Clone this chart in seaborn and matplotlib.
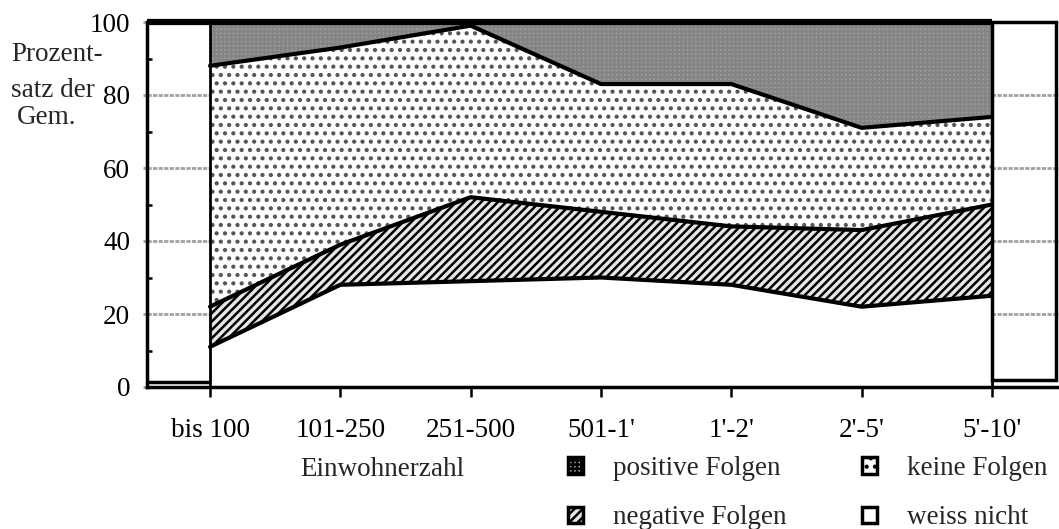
import numpy as np
import pandas as pd
import matplotlib.pyplot as plt
import seaborn as sns
from matplotlib.patches import Patch, Rectangle

# =====================================================
# DATA (percent of municipalities)
# =====================================================
categories = ["bis 100", "101-250", "251-500", "501-1'", "1'-2'", "2'-5'", "5'-10'"]
weiss_nicht = [11, 28, 29, 30, 28, 22, 25]
negative_folgen = [11, 11, 23, 18, 16, 21, 25]
keine_folgen = [66, 54, 47, 35, 39, 28, 24]
positive_folgen = [12, 7, 1, 17, 17, 29, 26]

y_ticks = [0, 20, 40, 60, 80, 100]

# stacking order, bottom to top
df = pd.DataFrame({
    "weiss nicht": weiss_nicht,
    "negative Folgen": negative_folgen,
    "keine Folgen": keine_folgen,
    "positive Folgen": positive_folgen,
}, index=categories)
cum = df.cumsum(axis=1)
cum["pos"] = np.arange(len(categories))
long = cum.melt(id_vars="pos", var_name="Serie", value_name="Prozent")

styles = {
    "weiss nicht": dict(facecolor="white", edgecolor="white", hatch=None),
    "negative Folgen": dict(facecolor="#e6e6e6", edgecolor="black", hatch="////"),
    "keine Folgen": dict(facecolor="white", edgecolor="#555555", hatch=".."),
    "positive Folgen": dict(facecolor="#a0a0a0", edgecolor="#858585", hatch="++++"),
}

# =====================================================
# STYLE
# =====================================================
sns.set_theme(style="white")
plt.rcParams["font.family"] = ["Liberation Serif", "DejaVu Serif"]
plt.rcParams["hatch.linewidth"] = 1.8

FS = 19.5
W, H = 1059, 529
fig = plt.figure(figsize=(W / 100, H / 100), dpi=100)
ax = fig.add_axes([147 / W, 1 - 387 / H, 1 - 147 / W, (387 - 22) / H])

x = np.arange(len(categories))
x_left = -(210 - 147) / 130.33
x_right = 6 + (W - 992) / 130.33

# =====================================================
# STACKED AREAS
# =====================================================
lower = np.zeros(len(categories))
for name in df.columns:
    upper = cum[name].to_numpy()
    ax.fill_between(x, lower, upper, linewidth=0, zorder=1, **styles[name])
    lower = upper

# boundary lines through seaborn
sns.lineplot(data=long[long["Serie"] != "positive Folgen"], x="pos", y="Prozent",
             units="Serie", estimator=None, sort=False, color="black",
             linewidth=3, ax=ax, zorder=3, legend=False)

ax.vlines([0, 6], 0, 100, color="black", linewidth=2, zorder=4)
ax.hlines(100, x_left, 6, color="black", linewidth=4.5, zorder=5, clip_on=False)
ax.hlines(1.4, x_left, 0, color="black", linewidth=2.5, zorder=4)
ax.add_patch(Rectangle((6, 1.9), (1056 - 992) / 130.33, 98.1, fill=False,
                       edgecolor="black", linewidth=2.5, zorder=4, clip_on=False))

# =====================================================
# AXES
# =====================================================
ax.set_xlim(x_left, x_right)
ax.set_ylim(0, 100)
ax.set_xticks(x, categories)
ax.set_yticks(y_ticks)
ax.set_yticks([10, 30, 50, 70, 90], minor=True)
ax.set_xlabel("")
ax.set_ylabel("")

ax.yaxis.grid(True, which="major", color="#a0a0a0", linewidth=2, linestyle=(0, (1.5, 0.5)))
ax.set_axisbelow(True)

ax.tick_params(axis="y", which="major", direction="out", length=3, width=2,
               color="#a0a0a0", pad=9, labelsize=FS, labelcolor="black", left=True)
ax.tick_params(axis="y", which="minor", direction="in", length=3.5, width=1.8,
               color="black", left=True)
ax.tick_params(axis="x", which="major", direction="out", length=7, width=1.8,
               color="black", pad=15, labelsize=FS, labelcolor="black", bottom=True)

for side in ["top", "right"]:
    ax.spines[side].set_visible(False)
for side in ["left", "bottom"]:
    ax.spines[side].set_color("black")
    ax.spines[side].set_linewidth(2.5)

# y axis title, in three lines
fig.text(11 / W, 1 - 61 / H, "Prozent-", fontsize=FS, va="baseline", ha="left")
fig.text(11 / W, 1 - 97 / H, "satz der", fontsize=FS, va="baseline", ha="left")
fig.text(17 / W, 1 - 124 / H, "Gem.", fontsize=FS, va="baseline", ha="left")

fig.text(382 / W, 1 - 476 / H, "Einwohnerzahl", fontsize=FS, va="baseline", ha="center")

# =====================================================
# LEGEND
# =====================================================
order = ["positive Folgen", "negative Folgen", "keine Folgen", "weiss nicht"]
handles = []
for name in order:
    st = styles[name]
    handles.append(Patch(facecolor=st["facecolor"], edgecolor="black",
                         hatch=st["hatch"], linewidth=2.5, label=name))
fig.legend(handles=handles, loc="upper left", bbox_to_anchor=(568 / W, 1 - 456 / H),
           ncol=2, frameon=False, fontsize=FS, handlelength=0.55, handleheight=0.55,
           handletextpad=1.1, columnspacing=2.8, labelspacing=0.9,
           borderpad=0, borderaxespad=0)

fig.savefig("out.png", dpi=100)
